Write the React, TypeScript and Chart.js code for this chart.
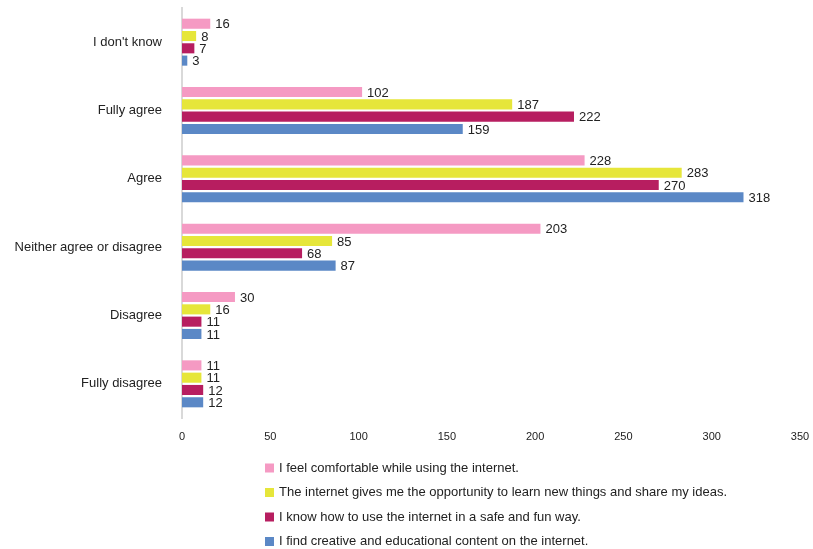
import React, { useEffect, useRef } from "react";
import { Chart, registerables } from "chart.js";

Chart.register(...registerables);

const categories = ["I don't know", "Fully agree", "Agree", "Neither agree or disagree", "Disagree", "Fully disagree"];
const seriesNames = [
  "I feel comfortable while using the internet.",
  "The internet gives me the opportunity to learn new things and share my ideas.",
  "I know how to use the internet in a safe and fun way.",
  "I find creative and educational content on the internet.",
];
const comfortable = [16, 102, 228, 203, 30, 11];
const opportunity = [8, 187, 283, 85, 16, 11];
const safeFun = [7, 222, 270, 68, 11, 12];
const creative = [3, 159, 318, 87, 11, 12];
const seriesValues = [comfortable, opportunity, safeFun, creative];
const colors = ["#F59AC3", "#E6E63A", "#B71E60", "#5B88C6"];
const xTicks = [0, 50, 100, 150, 200, 250, 300, 350];

const FONT = "'Liberation Sans', Arial, sans-serif";

const valueLabels = {
  id: "valueLabels",
  afterDatasetsDraw(chart: any) {
    const ctx = chart.ctx;
    ctx.save();
    ctx.font = `13px ${FONT}`;
    ctx.fillStyle = "#222";
    ctx.textBaseline = "middle";
    ctx.textAlign = "left";
    chart.data.datasets.forEach((ds: any, i: number) => {
      const meta = chart.getDatasetMeta(i);
      meta.data.forEach((bar: any, j: number) => {
        ctx.fillText(String(ds.data[j]), bar.x + 5, bar.y + 1);
      });
    });
    ctx.restore();
  },
};

const customLegend = {
  id: "customLegend",
  afterDraw(chart: any) {
    const ctx = chart.ctx;
    ctx.save();
    ctx.font = `13px ${FONT}`;
    ctx.textBaseline = "middle";
    ctx.textAlign = "left";
    const x0 = 265;
    const y0 = 468;
    const step = 24.5;
    chart.data.datasets.forEach((ds: any, i: number) => {
      const y = y0 + i * step;
      ctx.fillStyle = ds.backgroundColor;
      ctx.fillRect(x0, y - 4.5, 9, 9);
      ctx.fillStyle = "#222";
      ctx.fillText(ds.label, x0 + 14, y);
    });
    ctx.restore();
  },
};

export default function App() {
  const ref = useRef<HTMLCanvasElement>(null);
  useEffect(() => {
    document.body.style.margin = "0";
    const chart = new Chart(ref.current!, {
      type: "bar",
      data: {
        labels: categories,
        datasets: seriesValues.map((vals, i) => ({
          label: seriesNames[i],
          data: vals,
          backgroundColor: colors[i],
          categoryPercentage: 0.72,
          barPercentage: 0.82,
        })),
      },
      options: {
        indexAxis: "y",
        responsive: false,
        animation: false,
        layout: { padding: { top: 8, right: 13, bottom: 100, left: 0 } },
        plugins: { legend: { display: false }, tooltip: { enabled: false } },
        scales: {
          x: {
            min: 0,
            max: 350,
            afterBuildTicks(scale: any) {
              scale.ticks = xTicks.map((v) => ({ value: v }));
            },
            afterFit(scale: any) {
              scale.height = 31;
              scale.paddingLeft = 0;
              scale.paddingRight = 0;
            },
            grid: { display: false, drawTicks: false },
            border: { display: false },
            ticks: { padding: 12, color: "#222", font: { family: FONT, size: 11 }, maxRotation: 0 },
          },
          y: {
            afterFit(scale: any) {
              scale.width = 182;
              scale.paddingTop = 0;
              scale.paddingBottom = 0;
            },
            grid: { display: false, drawTicks: false },
            border: { display: true, color: "#D9D9D9", width: 2 },
            ticks: { padding: 20, color: "#222", font: { family: FONT, size: 13 } },
          },
        },
      },
      plugins: [valueLabels, customLegend],
    });
    return () => chart.destroy();
  }, []);
  return (
    <div style={{ position: "absolute", left: 0, top: 0, width: 813, height: 549 }}>
      <canvas ref={ref} width={813} height={549} style={{ width: 813, height: 549 }} />
    </div>
  );
}
